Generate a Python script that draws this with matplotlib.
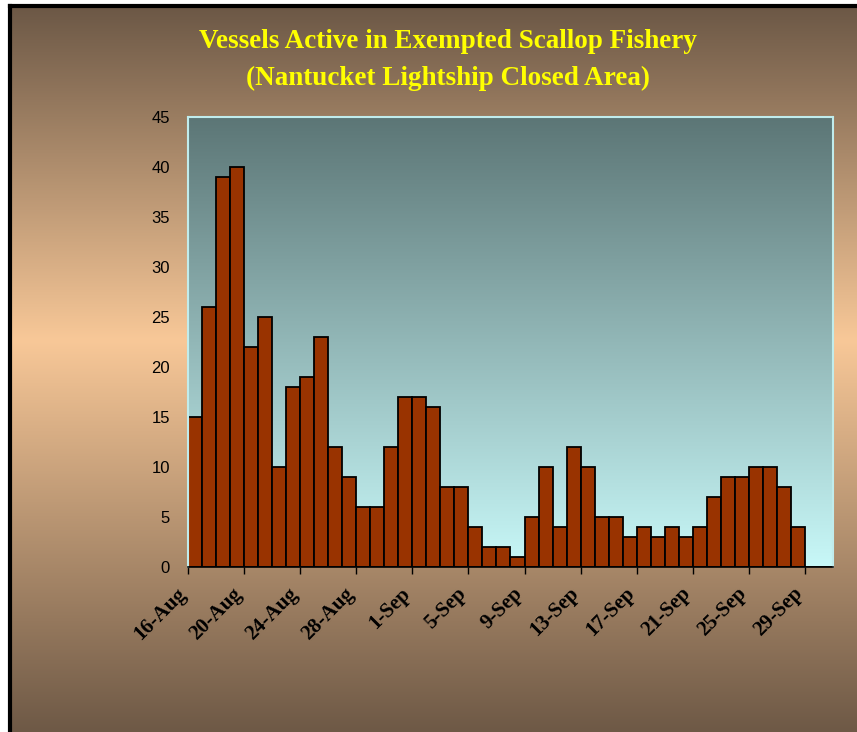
import numpy as np
import matplotlib.pyplot as plt
import matplotlib.transforms as mtransforms
from matplotlib.colors import LinearSegmentedColormap

# daily counts, 16-Aug .. 30-Sep
days = ['16-Aug', '17-Aug', '18-Aug', '19-Aug', '20-Aug', '21-Aug', '22-Aug', '23-Aug',
        '24-Aug', '25-Aug', '26-Aug', '27-Aug', '28-Aug', '29-Aug', '30-Aug', '31-Aug',
        '1-Sep', '2-Sep', '3-Sep', '4-Sep', '5-Sep', '6-Sep', '7-Sep', '8-Sep',
        '9-Sep', '10-Sep', '11-Sep', '12-Sep', '13-Sep', '14-Sep', '15-Sep', '16-Sep',
        '17-Sep', '18-Sep', '19-Sep', '20-Sep', '21-Sep', '22-Sep', '23-Sep', '24-Sep',
        '25-Sep', '26-Sep', '27-Sep', '28-Sep', '29-Sep', '30-Sep']
vessels = [15, 26, 39, 40, 22, 25, 10, 18, 19, 23, 12, 9, 6, 6, 12, 17,
           17, 16, 8, 8, 4, 2, 2, 1, 5, 10, 4, 12, 10, 5, 5, 3,
           4, 3, 4, 3, 4, 7, 9, 9, 10, 10, 8, 4, 0, 0]
label_step = 4
y_ticks = [0, 5, 10, 15, 20, 25, 30, 35, 40, 45]

title1 = 'Vessels Active in Exempted Scallop Fishery'
title2 = '(Nantucket Lightship Closed Area)'

W, H = 857, 732
fig = plt.figure(figsize=(W / 100, H / 100), dpi=100, facecolor='white')

# brown/peach backdrop with black edge on left and top
bg = fig.add_axes([10 / W, 0, 1 - 10 / W, 1 - 6 / H])
bg_cmap = LinearSegmentedColormap.from_list(
    'bg', [(0.0, '#6c5846'), (0.46, '#f8c898'), (1.0, '#6e5946')])
bg.imshow(np.linspace(0, 1, 256).reshape(-1, 1), cmap=bg_cmap, aspect='auto',
          extent=(0, 1, 0, 1))
bg.set_xlim(0, 1)
bg.set_ylim(0, 1)
bg.set_xticks([])
bg.set_yticks([])
for side in ['right', 'bottom']:
    bg.spines[side].set_visible(False)
for side in ['left', 'top']:
    bg.spines[side].set_linewidth(3)
    bg.spines[side].set_color('black')

fig.text(448 / W, 1 - 42 / H, title1, color='#ffff00', fontsize=19.5, fontweight='bold',
         family='Liberation Serif', ha='center', va='center')
fig.text(448 / W, 1 - 78 / H, title2, color='#ffff00', fontsize=19.5, fontweight='bold',
         family='Liberation Serif', ha='center', va='center')

ax = fig.add_axes([188 / W, 1 - 567 / H, (833 - 188) / W, (567 - 117) / H])
ax.patch.set_alpha(0)

n = len(days)
x = np.arange(n)
ax.set_xlim(-0.5, n - 0.5)
ax.set_ylim(0, 45)

plot_cmap = LinearSegmentedColormap.from_list('pa', ['#c8f8f8', '#5c7676'])
ax.imshow(np.linspace(0, 1, 256).reshape(-1, 1), cmap=plot_cmap, aspect='auto',
          extent=(-0.5, n - 0.5, 0, 45), origin='lower', zorder=0)

ax.bar(x, vessels, width=1.0, color='#993300', edgecolor='black', linewidth=1.3, zorder=2)

ax.set_yticks(y_ticks)
ax.set_yticklabels([str(v) for v in y_ticks], family='Liberation Sans', fontsize=12)
ax.tick_params(axis='y', length=0, pad=13)

tick_pos = x[::label_step] - 0.5
ax.set_xticks(tick_pos)
ax.set_xticklabels(days[::label_step], rotation=45, ha='right', va='center',
                   rotation_mode='anchor', family='Liberation Serif',
                   fontweight='bold', fontsize=15)
ax.tick_params(axis='x', length=5, width=1, color='black', pad=12)
shift = mtransforms.ScaledTranslation(-5 / 100, 0, fig.dpi_scale_trans)
for lbl in ax.get_xticklabels():
    lbl.set_transform(lbl.get_transform() + shift)

for side in ['left', 'top', 'right']:
    ax.spines[side].set_color('#c0ecec')
    ax.spines[side].set_linewidth(1.5)
ax.spines['bottom'].set_color('black')
ax.spines['bottom'].set_linewidth(1.2)
ax.spines['bottom'].set_zorder(3)

fig.savefig('out.png', dpi=100, facecolor='white')
